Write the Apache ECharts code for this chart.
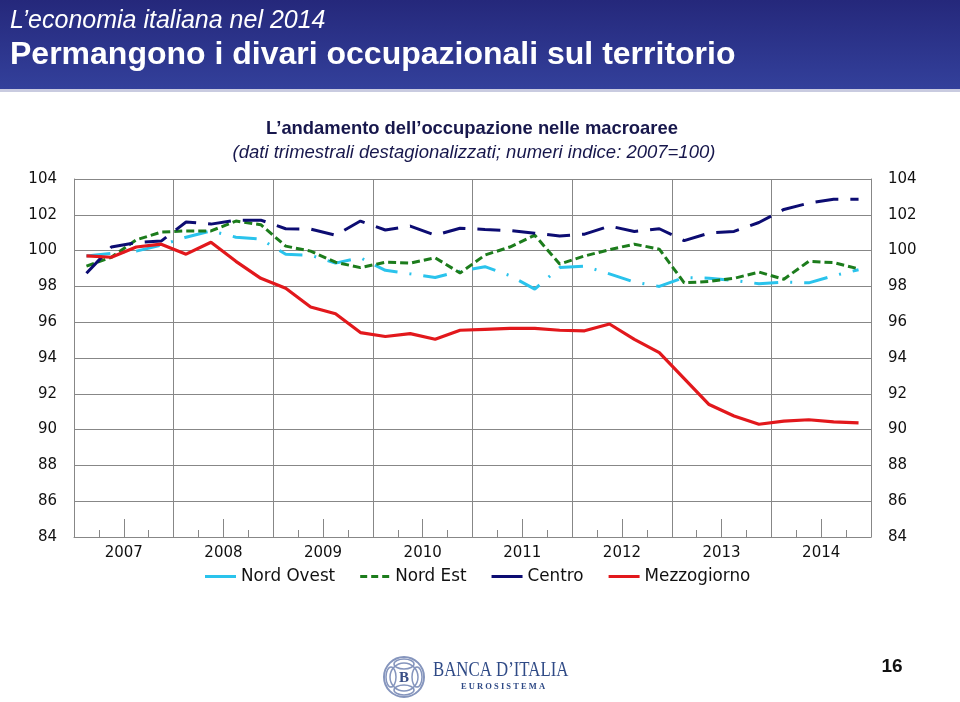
<!DOCTYPE html>
<html>
<head>
<meta charset="utf-8">
<script src="https://cdn.jsdelivr.net/npm/echarts@6/dist/echarts.min.js"></script>
<style>
html,body{margin:0;padding:0;background:#fff;}
#c{width:960px;height:702px;}
</style>
</head>
<body>
<div id="c"></div>
<script>
// ---- data ----
var years = ['2007','2008','2009','2010','2011','2012','2013','2014'];
var quarterNames = ['I','II','III','IV'];
var seriesNames = ['Nord Ovest','Nord Est','Centro','Mezzogiorno'];
var nordOvest = [99.7, 99.85, 99.97, 100.3, 100.75, 101.1, 100.75, 100.64, 99.8, 99.74, 99.3, 99.6, 98.9, 98.7, 98.5, 98.85, 99.1, 98.6, 97.85, 99.05, 99.13, 98.7, 98.24, 98.0, 98.5, 98.46, 98.33, 98.15, 98.24, 98.2, 98.6, 98.93];
var nordEst = [99.13, 99.63, 100.6, 101.03, 101.1, 101.1, 101.65, 101.45, 100.25, 99.97, 99.35, 99.05, 99.35, 99.3, 99.6, 98.75, 99.75, 100.2, 100.86, 99.25, 99.7, 100.05, 100.36, 100.08, 98.2, 98.28, 98.45, 98.8, 98.4, 99.4, 99.33, 98.98];
var centro = [98.73, 100.2, 100.45, 100.53, 101.6, 101.48, 101.7, 101.7, 101.22, 101.2, 100.86, 101.65, 101.15, 101.37, 100.86, 101.25, 101.18, 101.12, 100.97, 100.82, 100.92, 101.37, 101.07, 101.22, 100.56, 100.98, 101.07, 101.57, 102.3, 102.65, 102.87, 102.87];
var mezzogiorno = [99.7, 99.63, 100.2, 100.36, 99.8, 100.47, 99.4, 98.45, 97.9, 96.85, 96.47, 95.42, 95.2, 95.36, 95.05, 95.55, 95.6, 95.65, 95.65, 95.55, 95.52, 95.9, 95.04, 94.3, 92.85, 91.4, 90.76, 90.3, 90.47, 90.55, 90.43, 90.38];
var yMin = 84, yMax = 104, yStep = 2;

// ---- derived categories ----
var quarters = [];
var halves = [];
years.forEach(function(y){
  quarterNames.forEach(function(q){ quarters.push(y + ' ' + q); });
  halves.push(y + ' H1'); halves.push(y + ' H2');
});

var chart = echarts.init(document.getElementById('c'), null, {renderer:'canvas'});
var gridCol = '#878787';
var chartFont = 'DejaVu Sans';
var lbl = {color:'#111', fontFamily:chartFont, fontSize:15};
var colNO = '#2ac3ec', colNE = '#1c7c1c', colC = '#0c0c72', colM = '#e2181c';

var option = {
  backgroundColor:'#ffffff',
  animation:false,
  grid:{left:74, right:89, top:179, height:358, containLabel:false},
  xAxis:[
    {type:'category', data:quarters, boundaryGap:true, position:'bottom',
     axisLine:{show:true, lineStyle:{color:gridCol, width:1}},
     axisTick:{show:true, inside:true, length:7, interval:0, lineStyle:{color:gridCol}},
     axisLabel:{show:false}, splitLine:{show:false}},
    {type:'category', data:years, boundaryGap:true, position:'bottom',
     axisLine:{show:false},
     axisTick:{show:false},
     axisLabel:Object.assign({margin:9, interval:0}, lbl),
     splitLine:{show:true, lineStyle:{color:gridCol, width:1}}},
    {type:'category', data:halves, boundaryGap:true, position:'bottom',
     axisLine:{show:false},
     axisTick:{show:true, inside:true, length:18, interval:0, lineStyle:{color:gridCol}},
     axisLabel:{show:false}, splitLine:{show:false}}
  ],
  yAxis:[
    {type:'value', min:yMin, max:yMax, interval:yStep, position:'left',
     axisLine:{show:true, lineStyle:{color:gridCol}}, axisTick:{show:false},
     axisLabel:Object.assign({margin:17}, lbl),
     splitLine:{show:true, lineStyle:{color:gridCol, width:1}}},
    {type:'value', min:yMin, max:yMax, interval:yStep, position:'right',
     axisLine:{show:true, lineStyle:{color:gridCol}}, axisTick:{show:false},
     axisLabel:Object.assign({margin:17}, lbl),
     splitLine:{show:false}}
  ],
  legend:{
    left:200, top:563, itemWidth:31, itemHeight:3, itemGap:25,
    textStyle:{color:'#111', fontFamily:chartFont, fontSize:16.8},
    data:[
      {name:'Nord Ovest', icon:'rect', itemStyle:{color:colNO}},
      {name:'Nord Est', icon:'path://M0,0h7v3h-7z M11,0h7v3h-7z M22,0h7v3h-7z', itemStyle:{color:colNE}},
      {name:'Centro', icon:'rect', itemStyle:{color:colC}},
      {name:'Mezzogiorno', icon:'rect', itemStyle:{color:colM}}
    ]
  },
  series:[
    {name:'Nord Ovest', type:'line', data:nordOvest, xAxisIndex:0, yAxisIndex:0, symbol:'none', z:3,
     itemStyle:{color:colNO}, lineStyle:{color:colNO, width:3, type:[24,12,2,12]}},
    {name:'Nord Est', type:'line', data:nordEst, xAxisIndex:0, yAxisIndex:0, symbol:'none', z:4,
     itemStyle:{color:colNE}, lineStyle:{color:colNE, width:3, type:[8,4]}},
    {name:'Centro', type:'line', data:centro, xAxisIndex:0, yAxisIndex:0, symbol:'none', z:5,
     itemStyle:{color:colC}, lineStyle:{color:colC, width:3, type:[23,12]}},
    {name:'Mezzogiorno', type:'line', data:mezzogiorno, xAxisIndex:0, yAxisIndex:0, symbol:'none', z:6,
     itemStyle:{color:colM}, lineStyle:{color:colM, width:3.2, type:'solid'}}
  ],
  graphic:[
    {type:'rect', left:0, top:0, z:-1, shape:{width:960, height:89},
     style:{fill:new echarts.graphic.LinearGradient(0,0,0,1,[{offset:0,color:'#25287b'},{offset:1,color:'#33409b'}])}},
    {type:'rect', left:0, top:89, z:-1, shape:{width:960, height:3}, style:{fill:'#c9cbe0'}},
    {type:'text', x:10, y:21, style:{text:'L\u2019economia italiana nel 2014', fill:'#ffffff',
      font:'italic 25px "Liberation Sans", Arial, sans-serif', textVerticalAlign:'middle'}},
    {type:'text', x:10, y:55, style:{text:'Permangono i divari occupazionali sul territorio', fill:'#ffffff',
      font:'bold 32px "Liberation Sans", Arial, sans-serif', textVerticalAlign:'middle'}},
    {type:'text', x:472, y:129, style:{text:'L\u2019andamento dell\u2019occupazione nelle macroaree', fill:'#17174c',
      font:'bold 18.4px "Liberation Sans", Arial, sans-serif', textAlign:'center', textVerticalAlign:'middle'}},
    {type:'text', x:474, y:153, style:{text:'(dati trimestrali destagionalizzati; numeri indice: 2007=100)', fill:'#17174c',
      font:'italic 18.5px "Liberation Sans", Arial, sans-serif', textAlign:'center', textVerticalAlign:'middle'}},
    // Banca d'Italia emblem (approximation)
    {type:'circle', shape:{cx:404, cy:677, r:20}, style:{fill:'none', stroke:'#8595bd', lineWidth:2}},
    {type:'circle', shape:{cx:404, cy:677, r:14}, style:{fill:'none', stroke:'#8595bd', lineWidth:1.5}},
    {type:'ellipse', shape:{cx:404, cy:664, rx:10, ry:5}, style:{fill:'none', stroke:'#8595bd', lineWidth:1.5}},
    {type:'ellipse', shape:{cx:404, cy:690, rx:10, ry:5}, style:{fill:'none', stroke:'#8595bd', lineWidth:1.5}},
    {type:'ellipse', shape:{cx:391, cy:677, rx:5, ry:10}, style:{fill:'none', stroke:'#8595bd', lineWidth:1.5}},
    {type:'ellipse', shape:{cx:417, cy:677, rx:5, ry:10}, style:{fill:'none', stroke:'#8595bd', lineWidth:1.5}},
    {type:'text', x:404, y:678, style:{text:'B', fill:'#3a4f86',
      font:'bold 15px "Liberation Serif", serif', textAlign:'center', textVerticalAlign:'middle'}},
    {type:'text', x:433, y:670, scaleX:0.8, style:{text:'BANCA D\u2019ITALIA', fill:'#2f4a86',
      font:'21px "Liberation Serif", serif', textVerticalAlign:'middle'}},
    {type:'text', x:503, y:687, style:{text:'E U R O S I S T E M A', fill:'#2f4a86',
      font:'bold 8.5px "Liberation Serif", serif', textAlign:'center', textVerticalAlign:'middle'}},
    {type:'text', x:892, y:667, style:{text:'16', fill:'#111',
      font:'bold 19px "Liberation Sans", Arial, sans-serif', textAlign:'center', textVerticalAlign:'middle'}}
  ]
};
chart.setOption(option);
</script>
</body>
</html>
